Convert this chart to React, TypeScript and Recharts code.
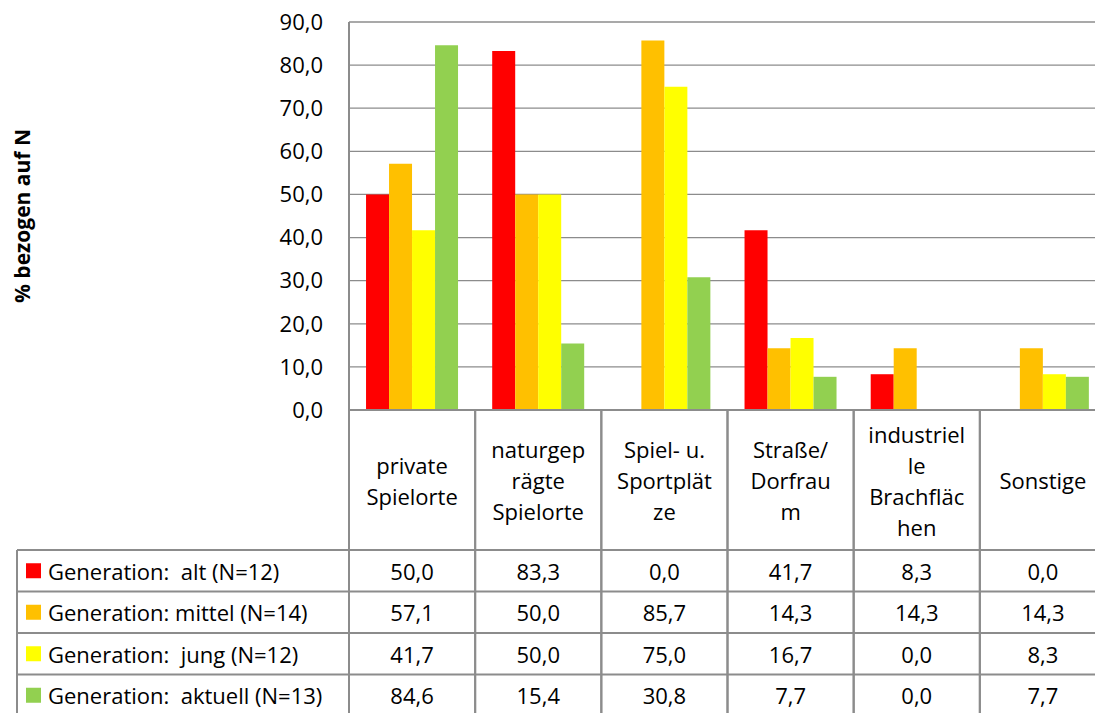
import React from 'react';
import { BarChart, Bar, XAxis, YAxis, CartesianGrid, Legend, Label } from 'recharts';

// categories, header text wrapped as in the original table
const categories = [
  'private\nSpielorte',
  'naturgep\nrägte\nSpielorte',
  'Spiel- u.\nSportplät\nze',
  'Straße/\nDorfrau\nm',
  'industriel\nle\nBrachfläc\nhen',
  'Sonstige',
];

const seriesNames = [
  'Generation:  alt (N=12)',
  'Generation: mittel (N=14)',
  'Generation:  jung (N=12)',
  'Generation:  aktuell (N=13)',
];
const alt = [50.0, 83.3, 0.0, 41.7, 8.3, 0.0];
const mittel = [57.1, 50.0, 85.7, 14.3, 14.3, 14.3];
const jung = [41.7, 50.0, 75.0, 16.7, 0.0, 8.3];
const aktuell = [84.6, 15.4, 30.8, 7.7, 0.0, 7.7];
const seriesKeys = ['alt', 'mittel', 'jung', 'aktuell'];
const colors = ['#FF0000', '#FFC000', '#FFFF00', '#92D050'];
const yTicks = [0, 10, 20, 30, 40, 50, 60, 70, 80, 90];
const yLabel = '% bezogen auf N';

const data = categories.map((name, i) => ({
  name,
  alt: alt[i],
  mittel: mittel[i],
  jung: jung[i],
  aktuell: aktuell[i],
}));

const FONT = '"Open Sans", sans-serif';
const FS = 22;
const GRAY = '#8c8c8c';
const W = 1110;
const H = 713;
const MARGIN = { top: 22, right: 4, left: 0, bottom: 0 };
const YAXIS_W = 349;
const XAXIS_H = 303;
const COL_W = (W - MARGIN.left - YAXIS_W - MARGIN.right) / categories.length;
const HEADER_H = 140;
const ROW_H = 41.5;
const TABLE_LEFT = 17;

const fmt = (v: number) => v.toFixed(1).replace('.', ',');
const seriesValues: Record<string, number[]> = { alt, mittel, jung, aktuell };

const TableTick = (props: any) => {
  const { x, y, payload, index } = props;
  const left = x - COL_W / 2;
  const right = x + COL_W / 2;
  const lines = String(payload.value).split('\n');
  const mid = y + HEADER_H / 2;
  const lh = 31;
  const rowTop = y + HEADER_H;
  return (
    <g>
      <line x1={left} y1={y} x2={left} y2={H} stroke={GRAY} strokeWidth={2} />
      <line x1={right} y1={y} x2={right} y2={H} stroke={GRAY} strokeWidth={2} />
      {lines.map((l, i) => (
        <text
          key={i}
          x={x}
          y={mid + (i - (lines.length - 1) / 2) * lh}
          textAnchor="middle"
          dominantBaseline="central"
          fontSize={FS}
          fontFamily={FONT}
          fill="#000"
        >
          {l}
        </text>
      ))}
      {seriesKeys.map((k, r) => (
        <g key={k}>
          <line x1={left} y1={rowTop + r * ROW_H} x2={right} y2={rowTop + r * ROW_H} stroke={GRAY} strokeWidth={2} />
          <text
            x={x}
            y={rowTop + r * ROW_H + ROW_H / 2}
            textAnchor="middle"
            dominantBaseline="central"
            fontSize={FS}
            fontFamily={FONT}
            fill="#000"
          >
            {fmt(seriesValues[k][index])}
          </text>
        </g>
      ))}
    </g>
  );
};

const renderLegend = (props: any) => {
  const payload = [...(props.payload || [])].sort(
    (a: any, b: any) => seriesNames.indexOf(a.value) - seriesNames.indexOf(b.value)
  );
  const top = MARGIN.top + (H - MARGIN.top - XAXIS_H - MARGIN.bottom) + HEADER_H;
  return (
    <svg width={YAXIS_W + 2} height={H} style={{ display: 'block' }}>
      <line x1={TABLE_LEFT} y1={top} x2={TABLE_LEFT} y2={H} stroke={GRAY} strokeWidth={2} />
      {payload.map((p: any, i: number) => {
        const rt = top + i * ROW_H;
        return (
          <g key={i}>
            <line x1={TABLE_LEFT} y1={rt} x2={YAXIS_W} y2={rt} stroke={GRAY} strokeWidth={2} />
            <rect x={26} y={rt + ROW_H / 2 - 7.5} width={15} height={15} fill={p.color} />
            <text
              x={48}
              y={rt + ROW_H / 2}
              dominantBaseline="central"
              fontSize={FS}
              fontFamily={FONT}
              fill="#000"
              style={{ whiteSpace: 'pre' }}
            >
              {p.value}
            </text>
          </g>
        );
      })}
    </svg>
  );
};

export default function App() {
  return (
    <>
      <style>{'body{margin:0}'}</style>
      <div style={{ width: 1095, height: H, overflow: 'hidden', position: 'relative', background: '#fff' }}>
        <BarChart
          width={W}
          height={H}
          data={data}
          margin={MARGIN}
          barCategoryGap="13.5%"
          barGap={0}
          style={{ fontFamily: FONT }}
        >
          <CartesianGrid vertical={false} stroke={GRAY} strokeWidth={1.3} />
          <XAxis
            dataKey="name"
            height={XAXIS_H}
            axisLine={{ stroke: GRAY, strokeWidth: 2 }}
            tickLine={false}
            tickSize={0}
            tickMargin={0}
            interval={0}
            tick={TableTick}
          />
          <YAxis
            width={YAXIS_W}
            domain={[0, 90]}
            ticks={yTicks}
            interval={0}
            tickFormatter={fmt}
            tickLine={false}
            tickMargin={20}
            axisLine={{ stroke: GRAY, strokeWidth: 2 }}
            tick={{ fill: '#000', fontSize: FS, fontFamily: FONT }}
          >
            <Label
              content={(lp: any) => {
                const vb = lp.viewBox || {};
                const cx = 22;
                const cy = (vb.y ?? 22) + (vb.height ?? 388) / 2;
                return (
                  <text
                    x={cx}
                    y={cy}
                    transform={`rotate(-90 ${cx} ${cy})`}
                    textAnchor="middle"
                    dominantBaseline="central"
                    fontWeight="bold"
                    fontSize={21}
                    fontFamily={FONT}
                    fill="#000"
                  >
                    {yLabel}
                  </text>
                );
              }}
            />
          </YAxis>
          <Legend
            layout="vertical"
            align="center"
            verticalAlign="middle"
            content={renderLegend}
            wrapperStyle={{ position: 'absolute', left: 0, top: 0, width: YAXIS_W + 2, height: H }}
          />
          {seriesKeys.map((k, i) => (
            <Bar key={k} dataKey={k} name={seriesNames[i]} fill={colors[i]} isAnimationActive={false} />
          ))}
        </BarChart>
      </div>
    </>
  );
}
